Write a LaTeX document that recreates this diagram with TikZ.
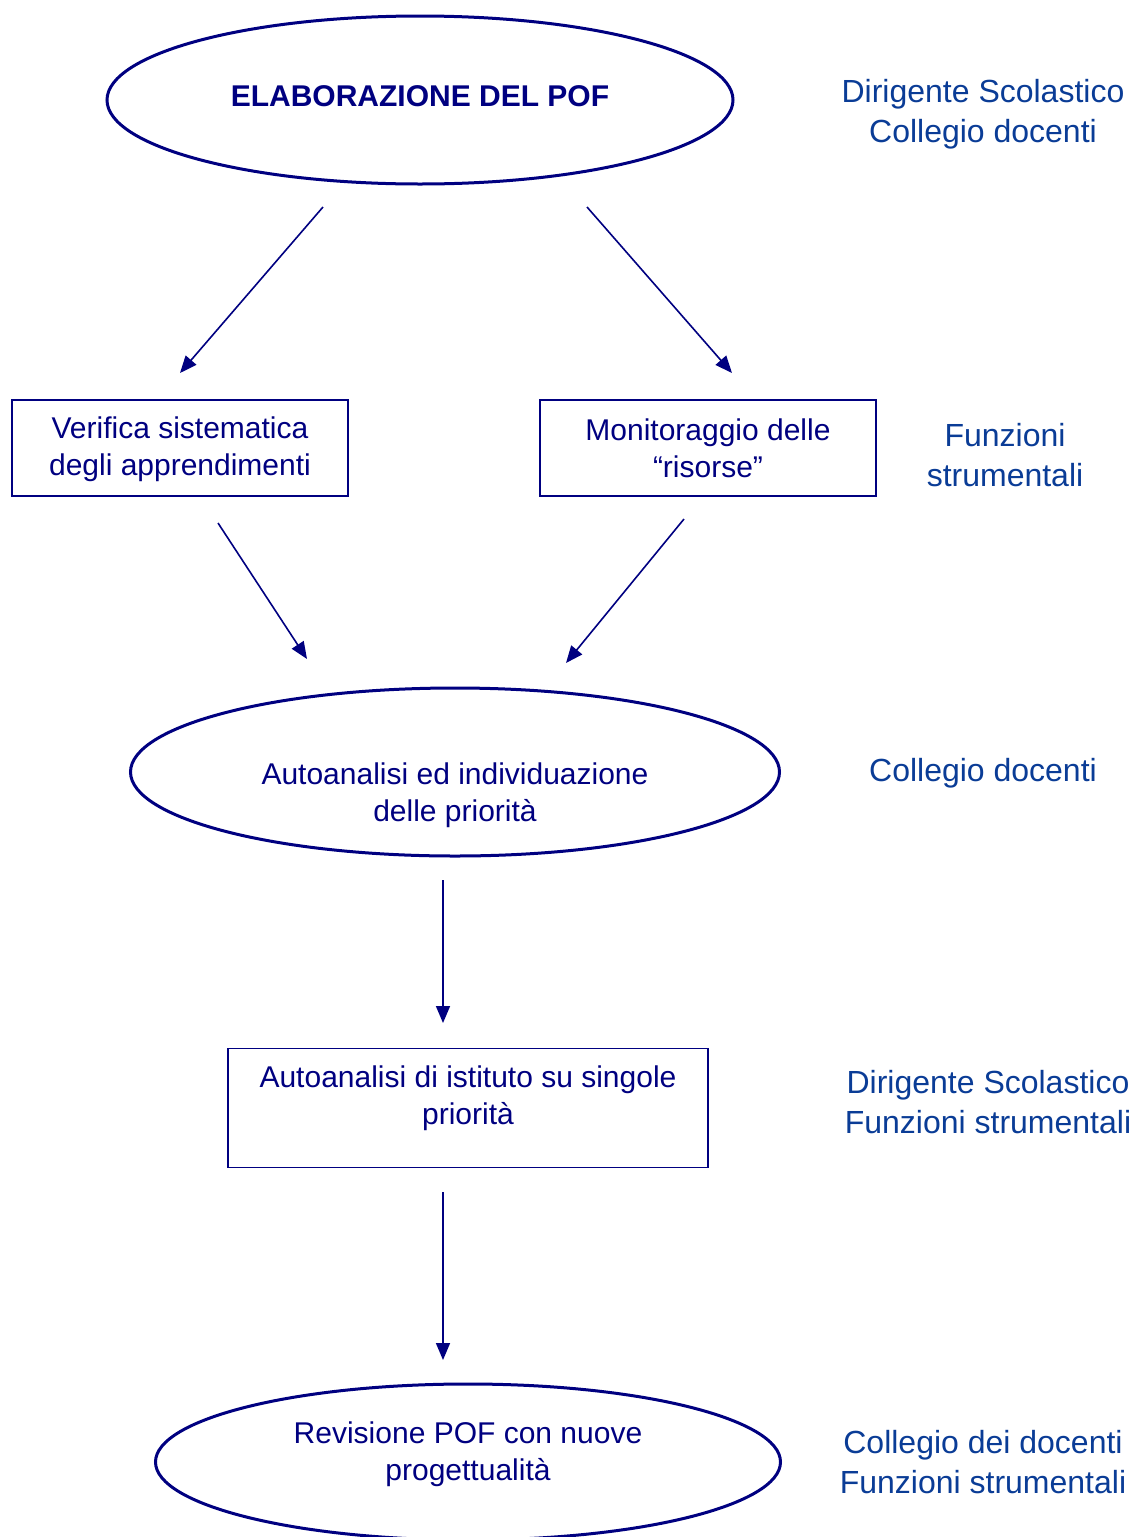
\documentclass[tikz,border=0pt]{standalone}
\usepackage{fontspec}
\setmainfont{Liberation Sans}
\usetikzlibrary{shapes.geometric,arrows.meta}
\definecolor{navy}{RGB}{0,0,128}
\definecolor{sideblue}{RGB}{10,60,150}

\begin{document}
\begin{tikzpicture}[x=1pt,y=-1pt,
  oval/.style={draw=navy,ellipse,line width=3pt,inner sep=0pt},
  stepbox/.style={draw=navy,line width=1.5pt,inner sep=0pt},
  flow/.style={draw=navy,line width=1.6pt,-{Triangle[length=17pt,width=14pt]}},
  txt/.style={text=navy,align=center,inner sep=0pt,font=\fontsize{30}{37}\selectfont},
  side/.style={text=sideblue,align=center,inner sep=0pt,font=\fontsize{32}{40}\selectfont}]
\useasboundingbox (0,0) rectangle (1134,1537);

% Shapes
\node[oval,minimum width=626pt,minimum height=168pt] (pof) at (420,100) {};
\node[stepbox,minimum width=336pt,minimum height=96pt] (verifica) at (180,448) {};
\node[stepbox,minimum width=336pt,minimum height=96pt] (monit) at (708,448) {};
\node[oval,minimum width=649pt,minimum height=168pt] (auto) at (455,772) {};
\node[stepbox,minimum width=480pt,minimum height=119pt] (istituto) at (468,1108) {};
\node[oval,minimum width=625pt,minimum height=156pt] (revis) at (468,1462) {};

% Texts
\node[txt,font=\fontsize{30}{37}\selectfont\bfseries] (pofT) at (420,96) {ELABORAZIONE DEL POF};
\node[txt] (verificaT) at (180,449) {Verifica sistematica\\degli apprendimenti};
\node[txt] (monitT) at (708,448) {Monitoraggio delle\\“risorse”};
\node[txt] (autoT) at (455,795) {Autoanalisi ed individuazione\\delle priorità};
\node[txt] (istitutoT) at (468,1098) {Autoanalisi di istituto su singole\\priorità};
\node[txt] (revisT) at (468,1454) {Revisione POF con nuove\\progettualità};

% Roles
\node[side] (r1) at (983,114) {Dirigente Scolastico\\Collegio docenti};
\node[side] (r2) at (1005,455) {Funzioni\\strumentali};
\node[side] (r3) at (983,773) {Collegio docenti};
\node[side] (r4) at (988,1102) {Dirigente Scolastico\\Funzioni strumentali};
\node[side] (r5) at (983,1462) {Collegio dei docenti\\Funzioni strumentali};

% Arrows
\coordinate (a1) at (323,207); \coordinate (b1) at (180,373);
\coordinate (a2) at (587,207); \coordinate (b2) at (732,373);
\coordinate (a3) at (218,523); \coordinate (b3) at (307,659);
\coordinate (a4) at (684,519); \coordinate (b4) at (566,663);
\coordinate (a5) at (443,880); \coordinate (b5) at (443,1023);
\coordinate (a6) at (443,1192); \coordinate (b6) at (443,1360);
\foreach \i in {1,...,6}
  \draw[flow] (a\i) -- (b\i);
\end{tikzpicture}
\end{document}
